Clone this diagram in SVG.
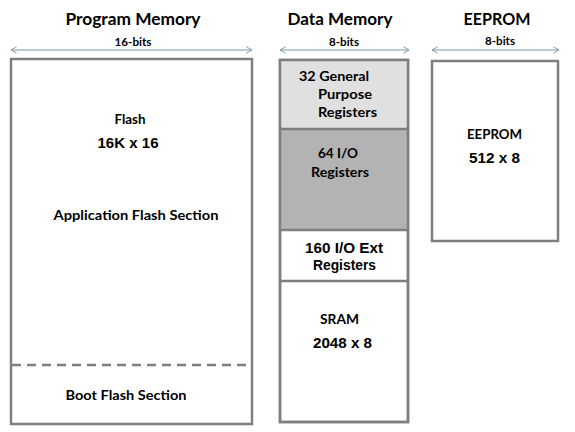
<svg xmlns="http://www.w3.org/2000/svg" width="575" height="432" viewBox="0 0 575 432">
<style>
.box{fill:#ffffff;stroke:#7f7f7f;stroke-width:2.5}
.frame{fill:none;stroke:#7f7f7f;stroke-width:2.5}
.div{stroke:#7f7f7f;stroke-width:2.5;fill:none}
.dash{stroke:#7f7f7f;stroke-width:2.5;stroke-dasharray:9 6;fill:none}
.arr{stroke:#7f97a6;stroke-width:1;fill:none}
.h{font-family:Lato,"Open Sans",sans-serif;font-weight:bold;font-size:17px;fill:#000;text-anchor:middle}
.w{font-family:Lato,"Open Sans",sans-serif;font-weight:bold;font-size:11px;fill:#000;text-anchor:middle}
.c{font-family:Lato,"Open Sans",sans-serif;font-weight:bold;font-size:14px;fill:#000}
.a{font-family:"Liberation Sans",Arial,sans-serif;font-weight:bold;font-size:15px;fill:#000}
.m{text-anchor:middle}
</style>
<defs>
<marker id="ah" viewBox="0 0 10 10" refX="9" refY="5" markerWidth="8" markerHeight="8" markerUnits="userSpaceOnUse" orient="auto-start-reverse">
<polyline points="2,1 9,5 2,9" fill="none" stroke="#7f97a6" stroke-width="1.2"/>
</marker>
</defs>
<rect width="575" height="432" fill="#ffffff"/>

<text class="h" x="133" y="25" textLength="135" lengthAdjust="spacingAndGlyphs">Program Memory</text>
<text class="h" x="340" y="25" textLength="105" lengthAdjust="spacingAndGlyphs">Data Memory</text>
<text class="h" x="497" y="25" textLength="67" lengthAdjust="spacingAndGlyphs">EEPROM</text>

<g id="connectors">
<line class="arr" x1="11" y1="50" x2="252" y2="50" marker-start="url(#ah)" marker-end="url(#ah)"/>
<line class="arr" x1="280" y1="50" x2="409" y2="50" marker-start="url(#ah)" marker-end="url(#ah)"/>
<line class="arr" x1="432" y1="50" x2="559" y2="50" marker-start="url(#ah)" marker-end="url(#ah)"/>
<text class="w" x="133" y="46" textLength="37" lengthAdjust="spacingAndGlyphs">16-bits</text>
<text class="w" x="344" y="46" textLength="30" lengthAdjust="spacingAndGlyphs">8-bits</text>
<text class="w" x="500" y="45" textLength="30" lengthAdjust="spacingAndGlyphs">8-bits</text>
</g>

<g id="program-memory">
<rect class="box" x="11" y="59" width="241" height="365"/>
<line class="dash" x1="12" y1="365" x2="251" y2="365"/>
<text class="c m" x="130" y="124" textLength="31" lengthAdjust="spacingAndGlyphs">Flash</text>
<text class="a m" x="128" y="148" textLength="61" lengthAdjust="spacingAndGlyphs">16K x 16</text>
<text class="c m" x="136" y="220" textLength="165" lengthAdjust="spacingAndGlyphs">Application Flash Section</text>
<text class="c m" x="126" y="400" textLength="121" lengthAdjust="spacingAndGlyphs">Boot Flash Section</text>
</g>

<g id="data-memory">
<rect class="box" x="280" y="60" width="128" height="362"/>
<rect x="281" y="61" width="126" height="68" fill="#e0e0e0"/>
<rect x="281" y="129" width="126" height="101" fill="#b3b3b3"/>
<line class="div" x1="280" y1="129" x2="408" y2="129"/>
<line class="div" x1="280" y1="230" x2="408" y2="230"/>
<line class="div" x1="280" y1="281" x2="408" y2="281"/>
<rect class="frame" x="280" y="60" width="128" height="362"/>
<text class="c" x="299" y="81" textLength="70" lengthAdjust="spacingAndGlyphs">32 General</text>
<text class="c" x="318" y="99" textLength="54" lengthAdjust="spacingAndGlyphs">Purpose</text>
<text class="c" x="318" y="117" textLength="59" lengthAdjust="spacingAndGlyphs">Registers</text>
<text class="c" x="318" y="158" textLength="40" lengthAdjust="spacingAndGlyphs">64 I/O</text>
<text class="c" x="311" y="177" textLength="58" lengthAdjust="spacingAndGlyphs">Registers</text>
<text class="a" x="305" y="253" textLength="78" lengthAdjust="spacingAndGlyphs">160 I/O Ext</text>
<text class="a" x="313" y="270" textLength="63" lengthAdjust="spacingAndGlyphs">Registers</text>
<text class="c" x="320" y="324" textLength="39" lengthAdjust="spacingAndGlyphs">SRAM</text>
<text class="a" x="313" y="348" textLength="59" lengthAdjust="spacingAndGlyphs">2048 x 8</text>
</g>

<g id="eeprom">
<rect class="box" x="432" y="61" width="126" height="180"/>
<text class="c" x="467" y="139" textLength="55" lengthAdjust="spacingAndGlyphs">EEPROM</text>
<text class="a" x="469" y="163" textLength="51" lengthAdjust="spacingAndGlyphs">512 x 8</text>
</g>
</svg>
